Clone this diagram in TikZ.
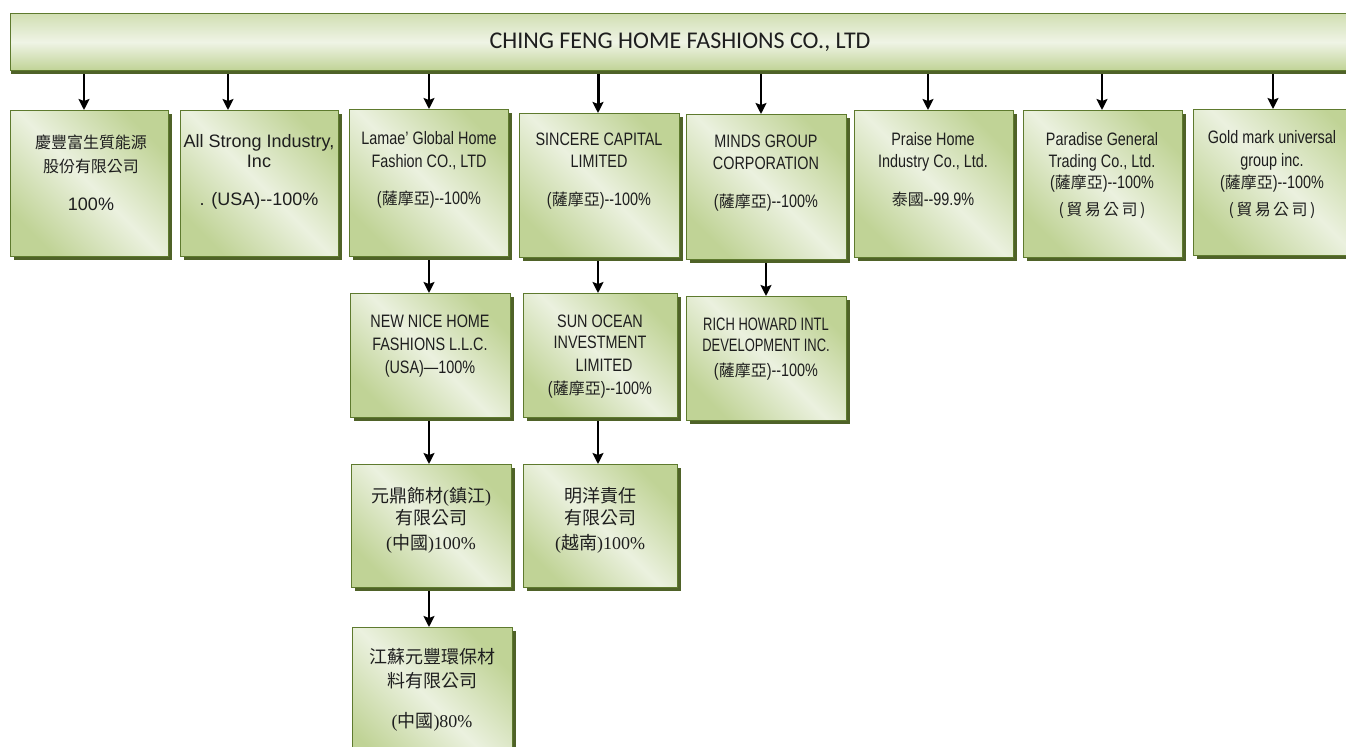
\documentclass[tikz,border=0pt]{standalone}
\usepackage{fontspec}
\setmainfont{Liberation Sans}
\newfontfamily\narrowf[FakeStretch=0.8]{Liberation Sans}
\newfontfamily\tightf[FakeStretch=0.72]{Liberation Sans}
\newfontfamily\cjkf{Noto Sans CJK TC}
\newfontfamily\cjkwidef[LetterSpace=15]{Noto Sans CJK TC}
\newfontfamily\calibf{Carlito}
\newfontfamily\timesf{Liberation Serif}
\usetikzlibrary{shadows,arrows.meta}
\definecolor{boxdark}{HTML}{C0D396}
\definecolor{boxlight}{HTML}{EBF1DF}
\definecolor{edgegreen}{HTML}{5E7A2E}
\definecolor{shadowgreen}{HTML}{4F6228}
\definecolor{inkc}{HTML}{1E1E1E}
\newcommand\cj[1]{{\cjkf\fontsize{8}{11.5}\selectfont #1}}
\newcommand\cjb[1]{{\cjkf\fontsize{9}{11.5}\selectfont #1}}
\newcommand\cjw[1]{{\cjkwidef\fontsize{8}{11.5}\selectfont #1}}
\tikzset{
  orgbox/.style={draw=edgegreen, line width=0.6pt,
    top color=boxdark, bottom color=boxdark, middle color=boxlight, shading angle=-45,
    general shadow={fill=shadowgreen, shadow xshift=1.5pt, shadow yshift=-1.5pt},
    inner sep=0pt, anchor=north west},
  topbar/.style={draw=edgegreen, line width=0.6pt,
    top color=boxdark!60!boxlight, bottom color=boxdark, middle color=boxlight!80!white,
    general shadow={fill=shadowgreen, shadow xshift=0pt, shadow yshift=-1.5pt},
    inner sep=0pt, anchor=north west},
  txt/.style={align=center, inner sep=0pt, text=inkc, anchor=base,
    font=\fontsize{9}{11.5}\selectfont},
  txtn/.style={txt, font=\narrowf\fontsize{9}{11.5}\selectfont},
  txtt/.style={txt, font=\timesf\fontsize{9}{11.5}\selectfont},
  arr/.style={draw=black, line width=1pt, -{Stealth[length=5.5pt,width=5.5pt,inset=1pt]}},
  arrthick/.style={arr, line width=1.5pt}
}
\begin{document}
\begin{tikzpicture}[x=0.5pt, y=-0.5pt]
\useasboundingbox (0,0) rectangle (1346,747);
% top bar
\node[topbar, minimum width=690pt, minimum height=28.5pt] (banner) at (10,13) {};
\node[txt, font=\calibf\fontsize{12}{13}\selectfont] (bt) at (680,48.5) {CHING FENG HOME FASHIONS CO., LTD};
% first row boxes
\node[orgbox, minimum width=79pt, minimum height=73pt] (b1) at (10,110) {};
\node[orgbox, minimum width=79pt, minimum height=73pt] (b2) at (180,110) {};
\node[orgbox, minimum width=79.5pt, minimum height=73.5pt] (b3) at (349,109) {};
\node[orgbox, minimum width=80pt, minimum height=72pt] (b4) at (519,113) {};
\node[orgbox, minimum width=80pt, minimum height=72.5pt] (b5) at (686,114) {};
\node[orgbox, minimum width=79.5pt, minimum height=73.5pt] (b6) at (854,110) {};
\node[orgbox, minimum width=79.5pt, minimum height=73.5pt] (b7) at (1023,110) {};
\node[orgbox, minimum width=90pt, minimum height=73pt] (b8) at (1193,109) {};
% second row
\node[orgbox, minimum width=80pt, minimum height=62pt] (c1) at (350,293) {};
\node[orgbox, minimum width=77pt, minimum height=62pt] (c2) at (523,293) {};
\node[orgbox, minimum width=80pt, minimum height=62pt] (c3) at (686,296) {};
% third row
\node[orgbox, minimum width=80pt, minimum height=61.5pt] (d1) at (351,464) {};
\node[orgbox, minimum width=77pt, minimum height=61.5pt] (d2) at (523,464) {};
% fourth row
\node[orgbox, minimum width=80pt, minimum height=75pt] (e1) at (352,627) {};
% texts (anchored at the baseline of their last line)
\node[txt] (t1) at (91,211) {\cj{慶豐富生質能源}\\[0.5pt]\cj{股份有限公司}\\[7.5pt]100\%};
\node[txt] (t2) at (259,206) {All Strong Industry,\\[-1.5pt]Inc\\[7.5pt]. (USA)-{}-100\%};
\node[txtn] (t3) at (429,205) {Lamae’ Global Home\\Fashion CO., LTD\\[7pt](\cj{薩摩亞})-{}-100\%};
\node[txtn] (t4) at (599,206) {SINCERE CAPITAL\\[-0.5pt]LIMITED\\[7.5pt](\cj{薩摩亞})-{}-100\%};
\node[txtn] (t5) at (766,208) {MINDS GROUP\\[-0.5pt]CORPORATION\\[7.5pt](\cj{薩摩亞})-{}-100\%};
\node[txtn] (t6) at (933,206) {Praise Home\\[-0.5pt]Industry Co., Ltd.\\[7.5pt]\cj{泰國}-{}-99.9\%};
\node[txtn] (t7) at (1102,216) {Paradise General\\[-0.5pt]Trading Co., Ltd.\\[-1pt](\cj{薩摩亞})-{}-100\%\\[2pt]\cjw{(貿易公司)}};
\node[txtn] (t8) at (1272,216) {Gold mark universal\\[0pt]group inc.\\[-0.5pt](\cj{薩摩亞})-{}-100\%\\[2pt]\cjw{(貿易公司)}};
\node[txtn] (t9) at (430,374) {NEW NICE HOME\\FASHIONS L.L.C.\\(USA)—100\%};
\node[txtn] (t10) at (600,395) {SUN OCEAN\\[-1pt]INVESTMENT\\\hspace{4pt}LIMITED\\(\cj{薩摩亞})-{}-100\%};
\node[txtn] (t11) at (766,377) {{\tightf RICH HOWARD INTL}\\[-1pt]{\tightf DEVELOPMENT INC.}\\[1pt](\cj{薩摩亞})-{}-100\%};
\node[txtt] (t12) at (431,550) {\cjb{元鼎飾材}(\cjb{鎮江})\\[-0.5pt]\cjb{有限公司}\\[1pt](\cjb{中國})100\%};
\node[txtt] (t13) at (600,550) {\cjb{明洋責任}\\[-0.5pt]\cjb{有限公司}\\[1pt](\cjb{越南})100\%};
\node[txtt] (t14) at (432,728) {\cjb{江蘇元豐環保材}\\[0.5pt]\cjb{料有限公司}\\[8.5pt](\cjb{中國})80\%};
% arrow columns
\coordinate (k1) at (84,0);
\coordinate (k2) at (228,0);
\coordinate (k3) at (429,0);
\coordinate (k4) at (598,0);
\coordinate (k5) at (761,0);
\coordinate (k6) at (928,0);
\coordinate (k7) at (1102,0);
\coordinate (k8) at (1273,0);
\coordinate (k9) at (766,0);
% connectors
\draw[arr] ([yshift=-1.5pt]banner.south -| k1) -- (b1.north -| k1);
\draw[arr] ([yshift=-1.5pt]banner.south -| k2) -- (b2.north -| k2);
\draw[arr] ([yshift=-1.5pt]banner.south -| k3) -- (b3.north -| k3);
\draw[arrthick] ([yshift=-1.5pt]banner.south -| k4) -- (b4.north -| k4);
\draw[arr] ([yshift=-1.5pt]banner.south -| k5) -- (b5.north -| k5);
\draw[arr] ([yshift=-1.5pt]banner.south -| k6) -- (b6.north -| k6);
\draw[arr] ([yshift=-1.5pt]banner.south -| k7) -- (b7.north -| k7);
\draw[arr] ([yshift=-1.5pt]banner.south -| k8) -- (b8.north -| k8);
\draw[arr] ([yshift=-1.5pt]b3.south -| k3) -- (c1.north -| k3);
\draw[arr] ([yshift=-1.5pt]b4.south -| k4) -- (c2.north -| k4);
\draw[arr] ([yshift=-1.5pt]b5.south -| k9) -- (c3.north -| k9);
\draw[arr] ([yshift=-1.5pt]c1.south -| k3) -- (d1.north -| k3);
\draw[arr] ([yshift=-1.5pt]c2.south -| k4) -- (d2.north -| k4);
\draw[arr] ([yshift=-1.5pt]d1.south -| k3) -- (e1.north -| k3);
\end{tikzpicture}
\end{document}
